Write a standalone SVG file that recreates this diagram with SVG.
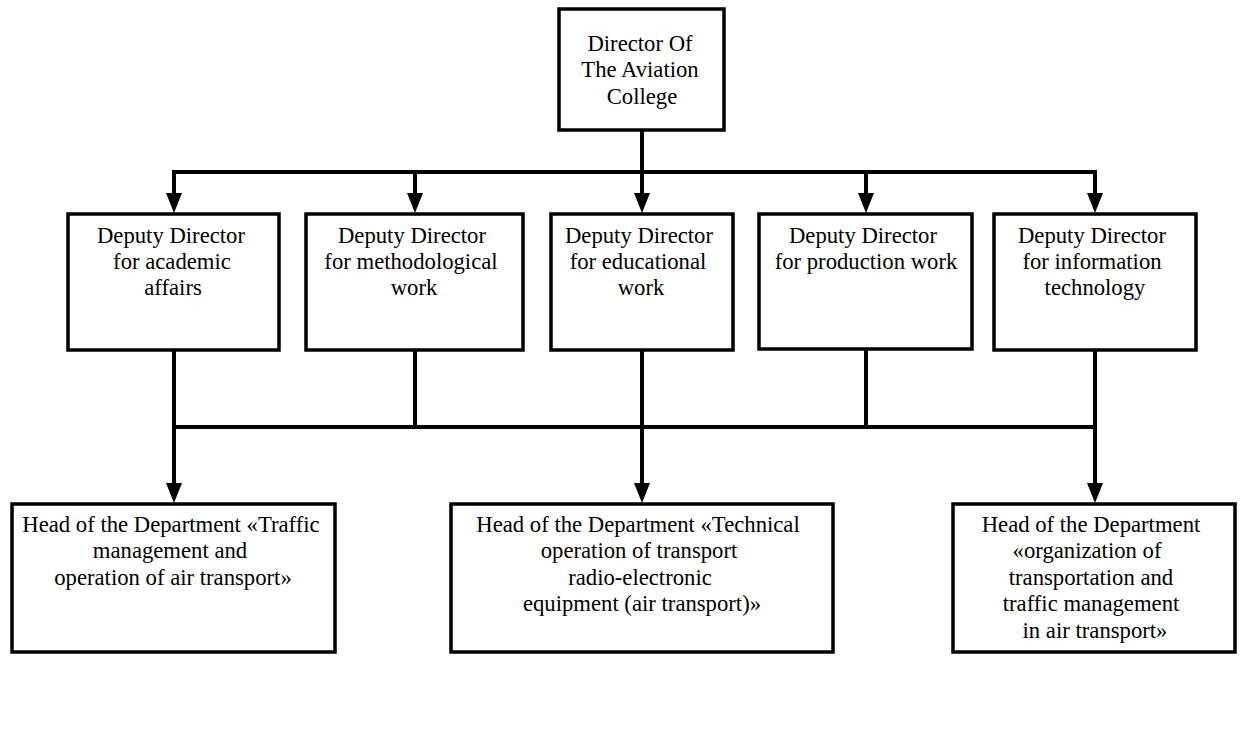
<svg xmlns="http://www.w3.org/2000/svg" width="1247" height="756" viewBox="0 0 1247 756">
<style>
.box{fill:#fff;stroke:#000;stroke-width:3.5}
.t{font-family:"Liberation Serif","Times New Roman",serif;font-size:22.7px;fill:#000;text-anchor:middle}
.c{fill:none;stroke:#000;stroke-width:4;stroke-linecap:square}
</style>
<defs>
<marker id="arr" viewBox="0 0 20 16" refX="0" refY="8" markerWidth="20" markerHeight="16" markerUnits="userSpaceOnUse" orient="auto">
<path d="M0,0 L20,8 L0,16 z" fill="#000"/>
</marker>
</defs>
<rect width="1247" height="756" fill="#fff"/>
<g id="connectors">
<path class="c" d="M642,130 V172"/>
<path class="c" d="M174,172 H1095"/>
<path class="c" d="M174,172 V193" marker-end="url(#arr)"/>
<path class="c" d="M415,172 V193" marker-end="url(#arr)"/>
<path class="c" d="M642,172 V193" marker-end="url(#arr)"/>
<path class="c" d="M866,172 V193" marker-end="url(#arr)"/>
<path class="c" d="M1095,172 V193" marker-end="url(#arr)"/>
<path class="c" d="M174,350 V427"/>
<path class="c" d="M415,350 V427"/>
<path class="c" d="M642,350 V427"/>
<path class="c" d="M866,350 V427"/>
<path class="c" d="M1095,350 V427"/>
<path class="c" d="M174,427 H1095"/>
<path class="c" d="M174,427 V483" marker-end="url(#arr)"/>
<path class="c" d="M642,427 V483" marker-end="url(#arr)"/>
<path class="c" d="M1095,427 V483" marker-end="url(#arr)"/>
</g>
<g id="director">
<rect class="box" x="559" y="9" width="165" height="121"/>
<text class="t" x="640" y="51">Director Of</text>
<text class="t" x="640" y="77">The Aviation</text>
<text class="t" x="642" y="104">College</text>
</g>
<g id="deputy-academic">
<rect class="box" x="68" y="214" width="211" height="136"/>
<text class="t" x="171" y="243">Deputy Director</text>
<text class="t" x="172" y="269">for academic</text>
<text class="t" x="173" y="295">affairs</text>
</g>
<g id="deputy-methodological">
<rect class="box" x="306" y="214" width="217" height="136"/>
<text class="t" x="412" y="243">Deputy Director</text>
<text class="t" x="411" y="269">for methodological</text>
<text class="t" x="414" y="295">work</text>
</g>
<g id="deputy-educational">
<rect class="box" x="551" y="214" width="182" height="136"/>
<text class="t" x="639" y="243">Deputy Director</text>
<text class="t" x="638" y="269">for educational</text>
<text class="t" x="641" y="295">work</text>
</g>
<g id="deputy-production">
<rect class="box" x="759" y="214" width="213" height="135"/>
<text class="t" x="863" y="243">Deputy Director</text>
<text class="t" x="866" y="269">for production work</text>
</g>
<g id="deputy-it">
<rect class="box" x="994" y="214" width="202" height="136"/>
<text class="t" x="1092" y="243">Deputy Director</text>
<text class="t" x="1092" y="269">for information</text>
<text class="t" x="1095" y="295">technology</text>
</g>
<g id="head-traffic">
<rect class="box" x="12" y="504" width="323" height="148"/>
<text class="t" x="171" y="532">Head of the Department «Traffic</text>
<text class="t" x="170" y="558">management and</text>
<text class="t" x="173" y="585">operation of air transport»</text>
</g>
<g id="head-technical">
<rect class="box" x="451" y="504" width="382" height="148"/>
<text class="t" x="638" y="532">Head of the Department «Technical</text>
<text class="t" x="639" y="558">operation of transport</text>
<text class="t" x="640" y="585">radio-electronic</text>
<text class="t" x="642" y="611">equipment (air transport)»</text>
</g>
<g id="head-organization">
<rect class="box" x="953" y="504" width="282" height="148"/>
<text class="t" x="1091" y="532">Head of the Department</text>
<text class="t" x="1087" y="558">«organization of</text>
<text class="t" x="1091" y="585">transportation and</text>
<text class="t" x="1091" y="611">traffic management</text>
<text class="t" x="1095" y="638">in air transport»</text>
</g>
</svg>
